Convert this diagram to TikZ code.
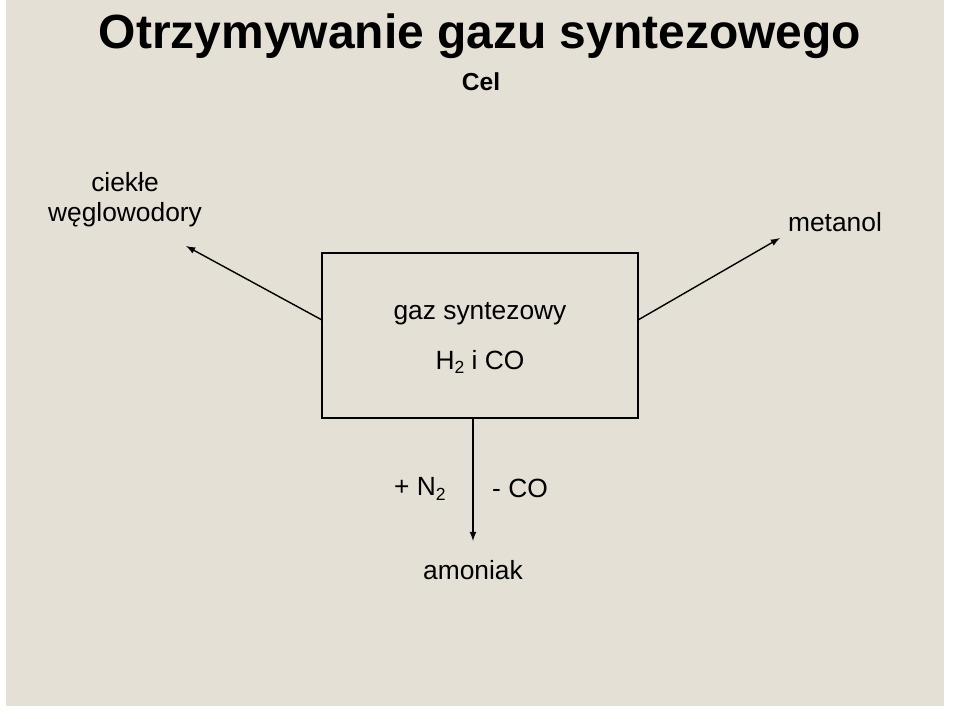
\documentclass[tikz,border=0pt]{standalone}
\usepackage{fontspec}
\setmainfont{Liberation Sans}
\usetikzlibrary{calc}
\definecolor{paper}{RGB}{229,224,214}
\newcommand{\subs}[1]{\raisebox{-0.35ex}{\fontsize{10}{11}\selectfont #1}}
\tikzset{lbl/.style={font=\fontsize{15}{17}\selectfont, inner sep=1pt}}
\begin{document}
\begin{tikzpicture}[x=0.02cm,y=-0.02cm]
	\useasboundingbox (0,0) rectangle (960,718);
	\fill[white] (0,0) rectangle (960,718);
	\fill[paper] (6,0) rectangle (944,706);
	
	\node[font=\fontsize{27.3}{30}\bfseries] (title) at (480,36) {Otrzymywanie gazu syntezowego};
	\node[font=\fontsize{14}{16}\bfseries] (cel) at (481,82) {Cel};
	
	\node[draw, thick, minimum width=316*0.02cm, minimum height=165*0.02cm] (box) at (480,335.5) {};
	\node[lbl] (gaz) at (480,314) {gaz syntezowy};
	\node[lbl] (h2) at (480,362) {H\subs{2} i CO};
	
	\node[lbl, align=center] (wegl) at (125,200) {ciekłe\\węglowodory};
	\node[lbl] (met) at (835,222) {metanol};
	\node[lbl] (amon) at (473,570) {amoniak};
	\node[lbl] (n2) at (420,489) {+ N\subs{2}};
	\node[lbl] (co) at (520,488) {- CO};
	
	\coordinate (a1) at (322,320);
	\coordinate (a2) at (638,320);
	\coordinate (a3) at (473,418);
	\draw[thick, -latex] (a1) -- (186,246);
	\draw[thick, -latex] (a2) -- (780,238);
	\draw[thick, -latex] (a3) -- (473,541);
\end{tikzpicture}
\end{document}
